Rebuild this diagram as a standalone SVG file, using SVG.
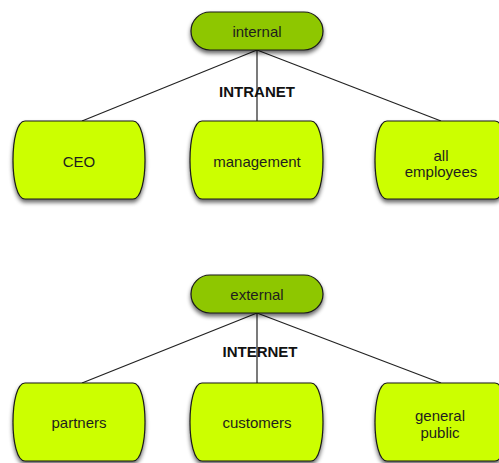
<svg xmlns="http://www.w3.org/2000/svg" width="499" height="463" viewBox="0 0 499 463">
<defs>
<filter id="sh" x="-20%" y="-20%" width="140%" height="150%">
<feGaussianBlur in="SourceAlpha" stdDeviation="2.2"/>
<feOffset dx="0" dy="3" result="b"/>
<feComponentTransfer><feFuncA type="linear" slope="0.6"/></feComponentTransfer>
<feMerge><feMergeNode/><feMergeNode in="SourceGraphic"/></feMerge>
</filter>
</defs>
<style>
.parent{fill:#8ec700;stroke:#1a1a1a;stroke-width:1.2;filter:url(#sh)}
.child{fill:#ccff00;stroke:#1a1a1a;stroke-width:1.2;filter:url(#sh)}
.t{font-family:"Liberation Sans",Arial,sans-serif;font-size:15px;fill:#1e1e1e;text-anchor:middle}
.lbl{font-family:"Liberation Sans",Arial,sans-serif;font-size:15px;font-weight:bold;fill:#111;text-anchor:middle}
.c{stroke:#222;stroke-width:1.2;fill:none}
</style>
<rect width="499" height="463" fill="#ffffff"/>
<g id="connectors">
<line class="c" x1="257" y1="50" x2="82" y2="121"/>
<line class="c" x1="257" y1="50" x2="257" y2="121"/>
<line class="c" x1="257" y1="50" x2="441" y2="121"/>
<line class="c" x1="257" y1="313" x2="82" y2="383"/>
<line class="c" x1="257" y1="313" x2="257" y2="383"/>
<line class="c" x1="257" y1="313" x2="441" y2="383"/>
<text class="lbl" x="257" y="96.5">INTRANET</text>
<text class="lbl" x="260" y="356.5">INTERNET</text>
</g>
<g id="internal">
<rect class="parent" x="191" y="12" width="132" height="38" rx="19" ry="19"/>
<text class="t" x="257" y="37">internal</text>
</g>
<g id="ceo">
<path class="child" d="M25,121 H133 C149,121 149,199 133,199 H25 C9,199 9,121 25,121 Z"/>
<text class="t" x="79" y="166.5">CEO</text>
</g>
<g id="management">
<path class="child" d="M202,121 H311 C327,121 327,199 311,199 H202 C186,199 186,121 202,121 Z"/>
<text class="t" x="257" y="166.5">management</text>
</g>
<g id="all-employees">
<path class="child" d="M387,121 H495 C511,121 511,199 495,199 H387 C371,199 371,121 387,121 Z"/>
<text class="t" x="441" y="160.5">all</text>
<text class="t" x="441" y="176.5">employees</text>
</g>
<g id="external">
<rect class="parent" x="191" y="275" width="132" height="38" rx="19" ry="19"/>
<text class="t" x="257" y="300">external</text>
</g>
<g id="partners">
<path class="child" d="M25,383 H133 C149,383 149,461 133,461 H25 C9,461 9,383 25,383 Z"/>
<text class="t" x="79" y="427.5">partners</text>
</g>
<g id="customers">
<path class="child" d="M202,383 H311 C327,383 327,461 311,461 H202 C186,461 186,383 202,383 Z"/>
<text class="t" x="257" y="427.5">customers</text>
</g>
<g id="general-public">
<path class="child" d="M387,383 H495 C511,383 511,461 495,461 H387 C371,461 371,383 387,383 Z"/>
<text class="t" x="440" y="421">general</text>
<text class="t" x="440" y="438">public</text>
</g>
</svg>
